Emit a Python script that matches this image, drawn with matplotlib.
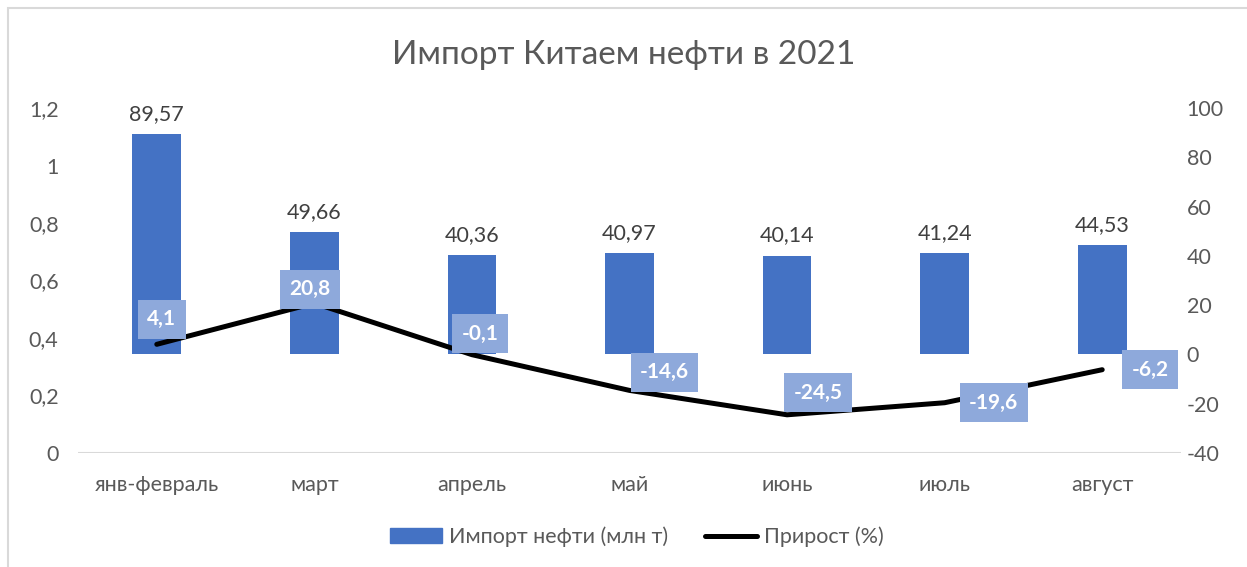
import matplotlib
matplotlib.use("Agg")
import matplotlib.pyplot as plt
from matplotlib.patches import Rectangle
from matplotlib.lines import Line2D

categories = ["янв-февраль", "март", "апрель", "май", "июнь", "июль", "август"]
imports = [89.57, 49.66, 40.36, 40.97, 40.14, 41.24, 44.53]
growth = [4.1, 20.8, -0.1, -14.6, -24.5, -19.6, -6.2]
left_ticks = [0, 0.2, 0.4, 0.6, 0.8, 1.0, 1.2]
left_tick_labels = ["0", "0,2", "0,4", "0,6", "0,8", "1", "1,2"]
right_ticks = [-40, -20, 0, 20, 40, 60, 80, 100]
title = "Импорт Китаем нефти в 2021"
bar_label = "Импорт нефти (млн т)"
line_label = "Прирост (%)"

# label offsets in pixels (style only)
label_offsets = [(5, -25), (-4, -14), (8, -21), (35, -18), (31, -22), (49, 0), (48, 0)]

def fmt(v, nd):
    return f"{v:.{nd}f}".replace(".", ",")

plt.rcParams['font.family'] = ['Lato', 'DejaVu Sans']
grey = "#595959"
fs = 15.5

fig = plt.figure(figsize=(12.47, 5.67), dpi=100)
fig.patches.append(Rectangle((8/1247, -0.1), 1.2, 1 - 8/567 + 0.1, transform=fig.transFigure,
                             fill=False, edgecolor="#d9d9d9", lw=1.5))

ax = fig.add_axes([78/1247, 1 - 453/567, (1181 - 78)/1247, (453 - 108)/567])
ax2 = ax.twinx()

x = list(range(len(categories)))
ax.set_xlim(-0.5, len(categories) - 0.5)
ax.set_ylim(0, 1.2)
ax.set_yticks(left_ticks)
ax.set_yticklabels(left_tick_labels)
ax2.set_ylim(-40, 100)
ax2.set_yticks(right_ticks)
ax2.set_yticklabels([str(t) for t in right_ticks])

ax2.bar(x, imports, width=0.31, color="#4472C4", zorder=2, label=bar_label)
for xi, v in zip(x, imports):
    ax2.annotate(fmt(v, 2), (xi, v), xytext=(0, 10), textcoords="offset pixels",
                 ha="center", va="bottom", fontsize=fs, color="#404040")

ax2.plot(x, growth, color="black", lw=3.6, solid_capstyle="round", zorder=3, label=line_label)
for xi, v, (dx, dy) in zip(x, growth, label_offsets):
    ax2.annotate(fmt(v, 1), (xi, v), xytext=(dx, -dy), textcoords="offset pixels",
                 ha="center", va="center", fontsize=15, fontweight="bold", color="white",
                 zorder=5,
                 bbox=dict(boxstyle="square,pad=0.45", fc="#8EA9DB", ec="none"))

for a in (ax, ax2):
    for s in a.spines.values():
        s.set_visible(False)
    a.tick_params(length=0, labelsize=fs, labelcolor=grey)
ax.tick_params(axis="y", pad=14)
ax2.tick_params(axis="y", pad=4)
ax.set_xticks(x)
ax.set_xticklabels(categories)
ax.tick_params(axis="x", pad=16)
ax.axhline(0, color="#d9d9d9", lw=1.5, zorder=1)

fig.text(0.5, 1 - 55/567, title, ha="center", va="center", fontsize=24, color=grey)

handles = [Rectangle((0, 0), 1, 1, color="#4472C4"),
           Line2D([0], [0], color="black", lw=3.6, solid_capstyle="round")]
fig.legend(handles, [bar_label, line_label], loc="center", bbox_to_anchor=(637/1247, 1 - 537/567),
           ncol=2, frameon=False, fontsize=fs, labelcolor=grey, handlelength=2.4,
           handletextpad=0.35, columnspacing=1.7)

fig.savefig("out.png", dpi=100)
